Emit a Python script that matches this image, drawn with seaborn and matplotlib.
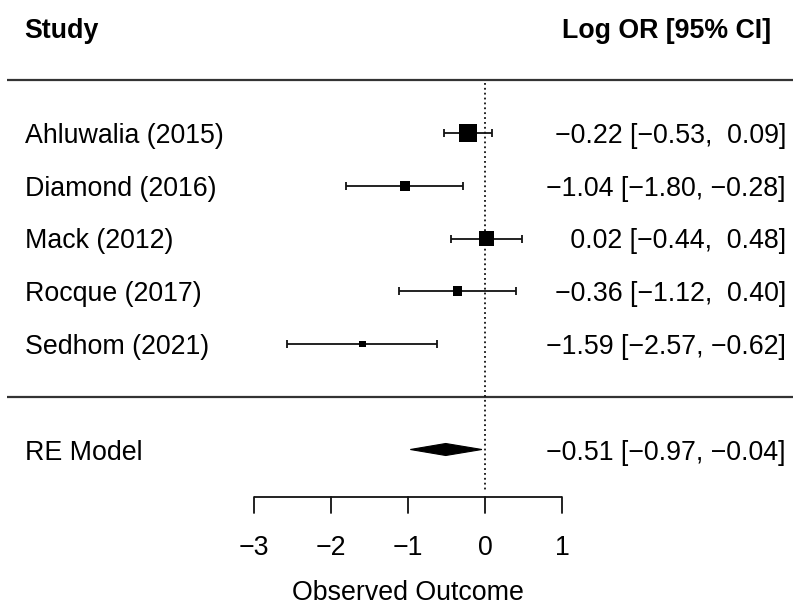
import numpy as np
import pandas as pd
import matplotlib
matplotlib.use("Agg")
import matplotlib.pyplot as plt
from matplotlib.patches import Polygon
import seaborn as sns

# Study-level log odds ratios with 95% confidence intervals
studies = ["Ahluwalia (2015)", "Diamond (2016)", "Mack (2012)", "Rocque (2017)", "Sedhom (2021)"]
log_or = [-0.22, -1.04, 0.02, -0.36, -1.59]
ci_lower = [-0.53, -1.80, -0.44, -1.12, -2.57]
ci_upper = [0.09, -0.28, 0.48, 0.40, -0.62]
weights = [27.9, 17.2, 24.3, 17.2, 13.3]  # random-effects weights (%)

# Pooled random-effects estimate
pooled_label = "RE Model"
pooled_est = -0.51
pooled_lower = -0.97
pooled_upper = -0.04

x_ticks = [-3, -2, -1, 0, 1]
x_label = "Observed Outcome"
header_left = "Study"
header_right = "Log OR [95% CI]"

sns.set_theme(style="white")
plt.rcParams["font.family"] = ["Liberation Sans", "DejaVu Sans"]

W, H, DPI = 793, 606, 100
FS = 19.3
PX_PER_UNIT = 77.0
ROW_PX = 52.75

fig = plt.figure(figsize=(W / DPI, H / DPI), dpi=DPI)
ax = fig.add_axes([0, 0, 1, 1])
x0 = -3 - 254 / PX_PER_UNIT
ax.set_xlim(x0, x0 + W / PX_PER_UNIT)
ax.set_ylim(1 - (H - 344) / ROW_PX, 1 + 344 / ROW_PX)
ax.axis("off")


def px(xp):
    """Horizontal pixel position to data coordinate."""
    return x0 + xp / PX_PER_UNIT


def fmt(v):
    s = f"{v:.2f}".replace("-", "\u2212")
    return s if v < 0 else " " + s


def annot(e, lo, hi):
    return f"{fmt(e)} [{fmt(lo)}, {fmt(hi)}]"


k = len(studies)
rows = np.arange(k, 0, -1)
pooled_row = -1

# relative marker sizes from weights (range 0.5 - 1.5)
w = np.asarray(weights, dtype=float)
psize = 0.5 + (w - w.min()) / (w.max() - w.min())
df = pd.DataFrame({"study": studies, "est": log_or, "lo": ci_lower,
                   "hi": ci_upper, "row": rows, "psize2": psize ** 2})

line_col = "#111111"
# header / separator lines
ax.plot([px(7), px(W)], [k + 1, k + 1], color="#333333", lw=1.6, solid_capstyle="butt")
ax.plot([px(7), px(W)], [0, 0], color="#333333", lw=1.6, solid_capstyle="butt")

# reference line at zero
axis_row = 1 - (497 - 344) / ROW_PX
ax.plot([0, 0], [k + 0.95, axis_row + 0.13], color=line_col, lw=1.3, ls=(0, (1, 1.7)))

# confidence intervals with end caps
cap = 4 / ROW_PX
ax.hlines(df["row"], df["lo"], df["hi"], color=line_col, lw=1.3)
ax.vlines(df["lo"], df["row"] - cap, df["row"] + cap, color=line_col, lw=1.3)
ax.vlines(df["hi"], df["row"] - cap, df["row"] + cap, color=line_col, lw=1.3)

# weighted squares
a = 12.4 * 72 / DPI
sns.scatterplot(data=df, x="est", y="row", size="psize2",
                sizes=((0.5 * a) ** 2, (1.5 * a) ** 2), size_norm=(0.25, 2.25),
                marker="s", color="black", linewidth=0, legend=False, ax=ax, zorder=3)

# pooled diamond
dh = 6 / ROW_PX
ax.add_patch(Polygon([[pooled_lower, pooled_row], [pooled_est, pooled_row + dh],
                      [pooled_upper, pooled_row], [pooled_est, pooled_row - dh]],
                     closed=True, facecolor="black", edgecolor="black", lw=0.8))

# study labels and annotations
txt = dict(fontsize=FS, color="black", va="center_baseline")
for r, s, e, lo, hi in zip(rows, studies, log_or, ci_lower, ci_upper):
    ax.text(px(25), r, s, ha="left", **txt)
    ax.text(px(786), r, annot(e, lo, hi), ha="right", **txt)

ax.text(px(25), pooled_row, pooled_label, ha="left", **txt)
ax.text(px(786), pooled_row, annot(pooled_est, pooled_lower, pooled_upper), ha="right", **txt)

# headers
ax.text(px(24), k + 2, header_left, ha="left", fontweight="bold", **txt)
ax.text(px(771), k + 2, header_right, ha="right", fontweight="bold", **txt)

# x axis
tick_len = 16 / ROW_PX
ax.plot([x_ticks[0], x_ticks[-1]], [axis_row, axis_row], color=line_col, lw=1.3,
        solid_capstyle="butt")
for t in x_ticks:
    ax.plot([t, t], [axis_row, axis_row - tick_len], color=line_col, lw=1.3)
    ax.text(t, 1 - (545 - 344) / ROW_PX, str(t).replace("-", "\u2212"), ha="center", **txt)
ax.text(np.mean([x_ticks[0], x_ticks[-1]]), 1 - (590 - 344) / ROW_PX, x_label,
        ha="center", **txt)

fig.savefig("out.png", dpi=DPI, facecolor="white")
